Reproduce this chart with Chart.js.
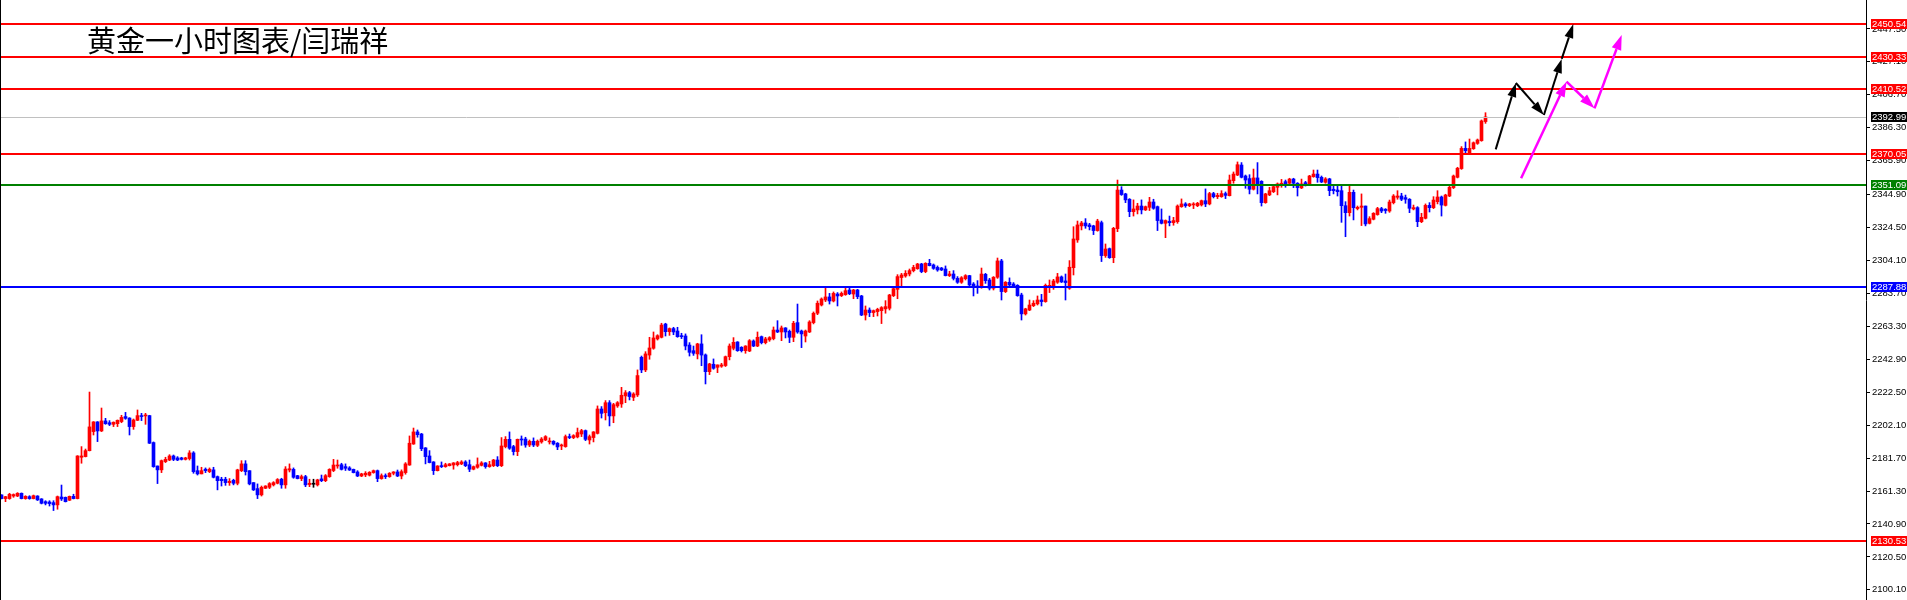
<!DOCTYPE html>
<html>

<head>
  <meta charset="utf-8">
  <title>黄金一小时图表</title>
  <script src="https://cdn.jsdelivr.net/npm/chart.js@4.4.1/dist/chart.umd.min.js"></script>
  <style media="screen">
    html, body { margin: 0; padding: 0; background: #fff; overflow: hidden; }
    canvas { display: block; }
  </style>
</head>

<body>
  <canvas id="goldChart" width="1907" height="600"></canvas>

  <script>
    // hourly candles (oldest first)
    const openPrices = [
      2158.9, 2156.6, 2156.6, 2158.2, 2158.2, 2159.9, 2156.6, 2157.8, 2156.6, 2158.2,
      2156.4, 2154.7, 2154.5, 2154.1, 2152.7, 2157.6, 2157.4, 2155.6, 2158.0, 2156.6,
      2182.2, 2182.6, 2186.3, 2198.1, 2204.1, 2198.5, 2204.7, 2203.6, 2202.6, 2203.0,
      2204.3, 2207.4, 2206.5, 2201.2, 2205.1, 2208.0, 2207.8, 2208.0, 2191.3, 2176.8,
      2174.4, 2179.5, 2180.5, 2183.0, 2181.8, 2181.8, 2180.9, 2181.4, 2184.9, 2173.9,
      2171.9, 2174.8, 2173.3, 2174.4, 2170.2, 2168.6, 2168.6, 2166.5, 2167.9, 2166.1,
      2173.9, 2178.1, 2173.9, 2166.5, 2162.8, 2158.9, 2163.0, 2163.6, 2165.1, 2166.1,
      2168.6, 2165.1, 2174.3, 2174.7, 2170.8, 2169.0, 2170.2, 2165.3, 2165.5, 2165.1,
      2168.8, 2167.7, 2170.2, 2174.0, 2176.8, 2177.6, 2176.4, 2175.6, 2174.7, 2173.1,
      2170.6, 2171.3, 2171.1, 2172.7, 2173.9, 2169.0, 2170.6, 2170.2, 2172.3, 2173.1,
      2170.6, 2172.7, 2177.4, 2190.4, 2197.9, 2196.6, 2188.0, 2183.0, 2179.3, 2173.9,
      2177.0, 2176.4, 2177.0, 2177.4, 2177.6, 2178.1, 2179.3, 2177.6, 2174.8, 2176.0,
      2177.2, 2178.7, 2176.4, 2177.0, 2180.5, 2177.0, 2188.8, 2193.3, 2188.8, 2185.7,
      2193.5, 2193.5, 2189.8, 2192.1, 2189.6, 2191.7, 2192.9, 2191.7, 2192.1, 2190.9,
      2189.2, 2188.8, 2195.0, 2194.4, 2194.8, 2196.6, 2198.7, 2192.9, 2194.4, 2197.0,
      2212.1, 2209.8, 2216.0, 2207.8, 2214.0, 2215.2, 2220.2, 2222.2, 2219.3, 2220.8,
      2244.1, 2236.3, 2245.5, 2249.7, 2255.5, 2256.5, 2264.7, 2260.0, 2261.9, 2260.4,
      2257.5, 2257.3, 2251.7, 2248.2, 2246.2, 2252.4, 2245.6, 2235.2, 2239.8, 2237.9,
      2238.6, 2239.0, 2244.5, 2249.7, 2253.6, 2250.3, 2248.2, 2248.0, 2254.2, 2251.1,
      2256.9, 2253.2, 2254.9, 2255.7, 2261.0, 2259.8, 2262.3, 2260.2, 2256.5, 2265.6,
      2260.4, 2257.3, 2259.8, 2265.6, 2271.4, 2276.5, 2279.6, 2281.5, 2279.0, 2283.3,
      2282.3, 2282.9, 2285.8, 2283.3, 2285.8, 2282.1, 2270.3, 2273.4, 2271.8, 2272.4,
      2273.0, 2274.1, 2274.5, 2282.3, 2286.2, 2293.5, 2294.5, 2295.7, 2297.8, 2299.0,
      2301.9, 2297.2, 2302.3, 2301.3, 2299.8, 2299.4, 2298.8, 2294.7, 2295.7, 2293.0,
      2290.6, 2292.8, 2294.7, 2289.5, 2288.3, 2287.9, 2295.5, 2292.0, 2286.9, 2293.7,
      2303.8, 2284.8, 2290.6, 2289.5, 2288.7, 2282.7, 2271.0, 2273.4, 2276.1, 2277.2,
      2279.6, 2278.6, 2287.9, 2287.9, 2290.6, 2293.9, 2291.4, 2286.9, 2299.6, 2316.8,
      2325.5, 2327.3, 2326.1, 2325.5, 2322.6, 2327.5, 2307.1, 2311.4, 2305.8, 2323.8,
      2347.7, 2345.3, 2342.0, 2334.3, 2335.4, 2337.8, 2335.4, 2337.0, 2340.3, 2337.4,
      2329.2, 2327.1, 2328.3, 2327.5, 2328.1, 2337.4, 2339.1, 2338.0, 2338.5, 2338.0,
      2338.5, 2341.1, 2339.1, 2345.5, 2343.6, 2343.6, 2345.5, 2344.2, 2353.5, 2357.0,
      2363.2, 2356.4, 2354.8, 2348.2, 2355.2, 2353.1, 2339.9, 2344.7, 2346.7, 2349.4,
      2351.3, 2352.9, 2351.9, 2354.5, 2351.9, 2349.0, 2352.3, 2351.5, 2356.0, 2357.6,
      2355.6, 2352.5, 2354.6, 2348.2, 2347.7, 2347.3, 2338.0, 2333.7, 2346.3, 2336.2,
      2337.0, 2337.8, 2327.1, 2329.6, 2332.5, 2336.2, 2335.8, 2334.7, 2339.9, 2343.2,
      2344.0, 2343.0, 2342.0, 2336.0, 2336.8, 2328.1, 2330.2, 2338.2, 2336.8, 2340.5,
      2343.4, 2338.2, 2344.0, 2349.2, 2355.6, 2361.0, 2373.5, 2370.4, 2373.3, 2376.6,
      2378.3, 2390.1
    ];
    const highPrices = [
      2159.0, 2158.0, 2159.9, 2159.5, 2160.3, 2160.1, 2158.4, 2158.4, 2158.8, 2158.4,
      2156.6, 2155.3, 2155.3, 2155.3, 2158.2, 2165.0, 2157.6, 2158.2, 2159.3, 2183.2,
      2188.8, 2187.3, 2222.6, 2204.3, 2204.3, 2212.7, 2206.3, 2204.9, 2204.1, 2205.3,
      2208.2, 2210.0, 2206.7, 2205.9, 2211.5, 2209.4, 2209.4, 2208.2, 2191.7, 2176.8,
      2180.5, 2182.2, 2183.8, 2183.6, 2182.6, 2182.2, 2182.2, 2186.3, 2185.7, 2176.8,
      2176.0, 2175.6, 2175.6, 2176.0, 2170.6, 2169.8, 2169.8, 2169.0, 2168.6, 2174.8,
      2180.1, 2180.1, 2173.9, 2166.5, 2165.7, 2164.4, 2164.6, 2166.5, 2167.1, 2169.0,
      2169.2, 2176.4, 2178.1, 2175.6, 2171.0, 2171.2, 2171.0, 2168.6, 2168.6, 2168.6,
      2171.2, 2171.5, 2175.1, 2180.9, 2180.5, 2178.5, 2178.1, 2176.4, 2174.9, 2173.9,
      2172.3, 2173.3, 2173.3, 2174.3, 2174.3, 2171.9, 2171.9, 2172.7, 2173.3, 2174.3,
      2174.4, 2178.9, 2195.4, 2200.3, 2199.1, 2197.0, 2188.2, 2186.3, 2179.5, 2177.0,
      2179.3, 2178.5, 2178.3, 2178.9, 2179.7, 2180.1, 2180.1, 2180.5, 2176.8, 2181.8,
      2179.5, 2178.9, 2179.7, 2180.9, 2182.6, 2194.4, 2195.0, 2197.9, 2189.6, 2193.5,
      2195.4, 2194.6, 2192.9, 2194.2, 2192.9, 2194.4, 2195.6, 2194.2, 2192.5, 2191.3,
      2190.4, 2196.0, 2196.6, 2196.2, 2200.3, 2199.5, 2199.1, 2196.0, 2198.1, 2214.0,
      2213.6, 2217.3, 2217.3, 2215.6, 2216.7, 2225.5, 2223.5, 2223.0, 2222.2, 2236.3,
      2244.9, 2247.6, 2256.5, 2259.8, 2258.1, 2265.2, 2265.2, 2262.3, 2262.7, 2262.7,
      2259.0, 2258.6, 2253.2, 2251.1, 2252.8, 2258.1, 2246.2, 2240.4, 2243.1, 2239.4,
      2240.4, 2244.9, 2252.4, 2256.3, 2253.8, 2250.7, 2251.3, 2255.1, 2254.9, 2259.8,
      2257.3, 2256.5, 2256.9, 2262.9, 2266.8, 2263.5, 2262.5, 2261.0, 2266.4, 2277.1,
      2261.0, 2261.0, 2266.8, 2272.2, 2279.0, 2280.9, 2287.5, 2283.7, 2284.6, 2284.2,
      2284.6, 2287.5, 2287.5, 2286.2, 2286.2, 2282.5, 2275.9, 2274.7, 2273.4, 2274.5,
      2275.5, 2279.2, 2283.1, 2287.3, 2295.3, 2296.1, 2297.8, 2298.8, 2301.1, 2302.3,
      2302.3, 2302.7, 2304.8, 2301.9, 2300.7, 2299.8, 2300.7, 2297.4, 2297.8, 2294.1,
      2294.1, 2295.3, 2294.9, 2290.4, 2291.6, 2299.4, 2296.1, 2293.0, 2294.1, 2305.6,
      2304.8, 2291.0, 2293.3, 2290.4, 2289.1, 2283.8, 2274.5, 2279.6, 2279.2, 2282.1,
      2283.1, 2289.5, 2292.0, 2292.4, 2296.1, 2294.5, 2295.7, 2304.0, 2325.0, 2328.5,
      2328.3, 2330.0, 2327.1, 2325.9, 2329.6, 2328.5, 2314.3, 2311.8, 2324.6, 2353.9,
      2349.8, 2345.7, 2342.4, 2341.6, 2339.5, 2341.6, 2337.8, 2343.2, 2342.0, 2337.8,
      2336.0, 2329.2, 2331.6, 2330.8, 2338.5, 2342.2, 2339.9, 2339.5, 2339.9, 2340.1,
      2341.5, 2348.4, 2346.3, 2346.3, 2345.7, 2347.3, 2346.5, 2357.0, 2358.9, 2365.1,
      2364.7, 2357.0, 2357.2, 2360.7, 2364.7, 2353.5, 2345.7, 2349.4, 2350.4, 2352.1,
      2354.3, 2353.9, 2355.0, 2355.0, 2352.3, 2354.5, 2353.1, 2356.8, 2360.1, 2360.1,
      2356.4, 2355.4, 2355.0, 2350.6, 2350.2, 2350.8, 2340.5, 2350.8, 2347.7, 2337.8,
      2345.3, 2337.8, 2331.2, 2333.7, 2337.0, 2337.0, 2336.2, 2341.5, 2344.9, 2347.3,
      2345.7, 2344.6, 2342.4, 2338.4, 2337.4, 2333.3, 2339.1, 2339.9, 2343.6, 2347.3,
      2344.0, 2345.1, 2350.2, 2357.0, 2361.8, 2374.6, 2377.5, 2379.3, 2377.5, 2379.3,
      2391.1, 2395.6
    ];
    const lowPrices = [
      2156.4, 2154.7, 2156.2, 2157.4, 2157.8, 2156.4, 2156.2, 2156.2, 2156.4, 2155.4,
      2153.3, 2152.7, 2152.0, 2149.2, 2150.0, 2155.4, 2154.5, 2155.4, 2156.4, 2156.4,
      2178.5, 2182.4, 2186.1, 2196.0, 2191.9, 2198.1, 2202.6, 2201.8, 2201.2, 2201.2,
      2203.6, 2205.7, 2196.0, 2199.5, 2204.9, 2204.9, 2202.6, 2190.7, 2176.0, 2165.9,
      2172.7, 2178.9, 2180.1, 2180.1, 2180.1, 2180.5, 2180.5, 2180.5, 2172.3, 2171.2,
      2171.9, 2172.7, 2172.7, 2169.4, 2162.0, 2164.4, 2164.8, 2164.8, 2165.1, 2165.1,
      2173.3, 2171.2, 2165.1, 2161.6, 2156.6, 2158.2, 2162.8, 2162.8, 2164.4, 2165.7,
      2163.0, 2163.0, 2173.1, 2169.2, 2168.8, 2167.7, 2164.0, 2164.0, 2163.6, 2164.4,
      2167.1, 2167.1, 2169.8, 2173.3, 2175.4, 2174.3, 2174.0, 2174.0, 2172.5, 2170.2,
      2170.2, 2170.2, 2170.6, 2172.3, 2167.1, 2168.6, 2169.0, 2169.8, 2171.3, 2170.2,
      2168.8, 2171.7, 2177.2, 2190.2, 2194.6, 2186.3, 2178.1, 2178.7, 2171.5, 2173.7,
      2175.8, 2176.0, 2176.8, 2174.8, 2176.8, 2177.6, 2176.4, 2173.3, 2174.4, 2175.4,
      2176.8, 2175.4, 2176.0, 2176.4, 2176.4, 2176.4, 2188.0, 2187.1, 2183.6, 2183.2,
      2189.6, 2188.4, 2188.8, 2188.8, 2188.8, 2190.9, 2192.5, 2190.4, 2189.8, 2186.9,
      2186.9, 2188.4, 2193.7, 2193.7, 2194.2, 2195.0, 2192.5, 2190.4, 2191.7, 2196.6,
      2206.5, 2205.3, 2201.6, 2203.6, 2213.1, 2213.1, 2216.0, 2217.7, 2217.3, 2219.8,
      2234.6, 2235.2, 2242.9, 2249.1, 2254.8, 2256.1, 2257.3, 2257.7, 2258.1, 2256.5,
      2255.7, 2248.7, 2244.9, 2245.3, 2243.1, 2238.9, 2227.6, 2233.4, 2236.7, 2234.6,
      2237.9, 2238.4, 2242.5, 2248.7, 2247.8, 2247.4, 2246.6, 2247.6, 2250.7, 2250.7,
      2252.4, 2252.4, 2254.0, 2254.9, 2259.4, 2254.4, 2256.1, 2253.2, 2253.8, 2259.0,
      2250.1, 2253.6, 2259.4, 2264.8, 2270.5, 2275.9, 2278.6, 2277.1, 2278.4, 2275.9,
      2281.7, 2282.5, 2282.9, 2280.4, 2280.4, 2269.9, 2267.2, 2269.3, 2269.3, 2269.7,
      2265.0, 2271.4, 2273.4, 2281.7, 2280.4, 2287.9, 2293.7, 2294.5, 2297.0, 2298.6,
      2296.5, 2296.5, 2300.7, 2298.6, 2297.4, 2297.8, 2294.5, 2294.1, 2292.0, 2289.9,
      2289.9, 2292.0, 2288.3, 2282.1, 2283.7, 2286.9, 2289.9, 2285.8, 2285.8, 2293.0,
      2279.6, 2284.2, 2288.3, 2287.5, 2281.9, 2267.2, 2270.3, 2273.0, 2275.5, 2276.5,
      2275.9, 2278.2, 2284.2, 2286.2, 2289.9, 2290.4, 2279.6, 2286.2, 2295.1, 2315.3,
      2323.0, 2324.0, 2323.0, 2320.1, 2322.2, 2303.4, 2306.0, 2305.4, 2302.7, 2321.9,
      2344.4, 2339.9, 2331.2, 2331.6, 2332.9, 2332.9, 2335.0, 2335.0, 2335.8, 2322.6,
      2326.7, 2318.2, 2325.5, 2325.9, 2327.1, 2337.0, 2337.0, 2337.4, 2336.2, 2337.4,
      2337.8, 2337.4, 2338.5, 2342.8, 2342.4, 2343.2, 2342.4, 2344.0, 2351.9, 2356.6,
      2355.2, 2348.8, 2345.3, 2347.7, 2345.3, 2337.8, 2339.5, 2344.2, 2346.1, 2344.7,
      2349.4, 2349.4, 2351.5, 2349.2, 2344.0, 2348.6, 2350.2, 2350.6, 2355.6, 2352.5,
      2352.3, 2351.9, 2344.2, 2345.3, 2344.0, 2327.7, 2318.8, 2331.6, 2329.2, 2335.4,
      2325.7, 2325.5, 2326.7, 2329.2, 2332.1, 2333.7, 2333.3, 2333.9, 2339.1, 2342.0,
      2341.1, 2339.5, 2333.7, 2335.4, 2325.0, 2327.5, 2329.8, 2334.1, 2336.2, 2339.1,
      2331.6, 2337.8, 2343.6, 2348.6, 2355.2, 2360.5, 2370.0, 2370.0, 2372.9, 2376.0,
      2377.9, 2389.0
    ];
    const closePrices = [
      2156.6, 2157.8, 2159.3, 2159.1, 2159.9, 2156.6, 2158.0, 2156.6, 2158.4, 2155.8,
      2153.7, 2153.7, 2153.5, 2152.7, 2157.8, 2156.4, 2154.7, 2158.0, 2156.6, 2183.0,
      2183.0, 2186.3, 2201.0, 2204.1, 2198.5, 2204.7, 2203.0, 2202.6, 2203.9, 2205.1,
      2206.9, 2206.3, 2201.2, 2205.3, 2208.0, 2207.4, 2208.4, 2190.9, 2176.4, 2174.4,
      2180.1, 2180.9, 2183.0, 2180.9, 2180.5, 2180.9, 2181.8, 2184.9, 2173.3, 2171.9,
      2173.9, 2173.9, 2174.8, 2169.8, 2167.7, 2167.7, 2166.5, 2167.3, 2166.1, 2174.4,
      2178.1, 2173.3, 2165.7, 2162.0, 2158.9, 2163.6, 2164.4, 2165.9, 2166.5, 2168.4,
      2165.1, 2174.9, 2175.1, 2169.8, 2169.0, 2170.2, 2165.1, 2166.1, 2165.5, 2168.2,
      2167.7, 2170.8, 2174.7, 2177.4, 2177.4, 2174.7, 2175.4, 2174.3, 2172.7, 2170.6,
      2171.9, 2172.3, 2172.9, 2173.9, 2169.0, 2170.8, 2170.2, 2172.3, 2173.1, 2170.6,
      2173.3, 2178.1, 2190.9, 2197.9, 2196.2, 2187.5, 2182.6, 2178.9, 2173.9, 2176.8,
      2176.4, 2177.6, 2178.1, 2178.7, 2178.9, 2179.3, 2177.0, 2174.8, 2176.4, 2177.6,
      2178.7, 2176.4, 2177.6, 2180.5, 2177.0, 2189.2, 2193.3, 2187.8, 2185.7, 2193.3,
      2192.9, 2189.8, 2192.1, 2189.8, 2192.1, 2193.5, 2195.0, 2192.1, 2190.4, 2188.6,
      2189.6, 2195.0, 2194.4, 2195.6, 2197.5, 2198.7, 2193.3, 2195.0, 2197.9, 2212.1,
      2209.4, 2216.0, 2207.8, 2214.8, 2216.0, 2220.6, 2222.2, 2219.8, 2221.4, 2232.8,
      2236.3, 2246.2, 2249.9, 2256.1, 2257.5, 2264.1, 2260.0, 2261.9, 2259.8, 2256.9,
      2256.9, 2251.1, 2247.2, 2246.6, 2252.4, 2245.5, 2235.2, 2240.0, 2237.3, 2239.4,
      2239.4, 2244.5, 2251.1, 2253.4, 2248.2, 2248.2, 2251.1, 2254.4, 2251.1, 2256.5,
      2253.2, 2255.5, 2256.3, 2261.0, 2259.8, 2262.3, 2259.8, 2256.5, 2265.2, 2259.8,
      2258.6, 2260.4, 2266.0, 2271.4, 2277.6, 2280.2, 2281.5, 2279.0, 2283.7, 2282.1,
      2283.7, 2285.4, 2283.5, 2285.8, 2281.7, 2270.3, 2273.4, 2271.8, 2273.0, 2273.8,
      2274.9, 2275.5, 2282.7, 2286.6, 2294.1, 2295.1, 2296.1, 2297.8, 2299.8, 2301.9,
      2297.2, 2302.3, 2300.9, 2299.2, 2298.2, 2298.2, 2294.7, 2295.7, 2293.0, 2290.6,
      2293.4, 2294.7, 2288.9, 2288.3, 2287.5, 2295.7, 2291.6, 2286.9, 2293.7, 2303.8,
      2284.8, 2290.6, 2288.9, 2288.3, 2282.3, 2271.0, 2274.1, 2276.5, 2277.6, 2279.6,
      2278.6, 2288.7, 2288.7, 2291.4, 2293.9, 2290.8, 2290.4, 2299.9, 2317.4, 2326.1,
      2327.3, 2325.5, 2325.0, 2322.6, 2328.5, 2307.1, 2311.2, 2305.8, 2324.0, 2347.7,
      2344.9, 2341.6, 2334.3, 2336.0, 2337.8, 2335.4, 2337.4, 2340.3, 2336.4, 2328.8,
      2327.1, 2328.8, 2327.5, 2328.8, 2337.8, 2339.1, 2338.0, 2339.1, 2339.1, 2339.5,
      2341.1, 2339.1, 2345.5, 2343.6, 2344.4, 2345.5, 2344.4, 2353.9, 2357.6, 2363.4,
      2355.6, 2353.9, 2348.2, 2355.2, 2351.5, 2339.9, 2345.3, 2347.3, 2349.8, 2351.5,
      2351.9, 2351.5, 2354.5, 2351.9, 2349.2, 2351.5, 2351.5, 2356.4, 2357.6, 2355.4,
      2352.7, 2354.6, 2347.3, 2347.3, 2346.7, 2338.0, 2333.7, 2346.3, 2336.8, 2337.0,
      2337.8, 2326.7, 2330.0, 2333.3, 2336.2, 2334.7, 2335.0, 2340.3, 2344.0, 2344.0,
      2342.0, 2342.0, 2336.4, 2336.8, 2328.1, 2330.8, 2338.2, 2336.8, 2341.5, 2343.4,
      2338.4, 2344.6, 2349.4, 2356.4, 2361.2, 2373.5, 2372.1, 2373.5, 2377.0, 2378.7,
      2390.5, 2393.0
    ];

    // price axis labels as printed by the terminal
    const yTickValues = [2100.10, 2120.50, 2140.90, 2161.30, 2181.70, 2202.10, 2222.50, 2242.90, 2263.30,
      2283.70, 2304.10, 2324.50, 2344.90, 2365.90, 2386.30, 2406.70, 2427.10, 2447.50];

    // horizontal levels drawn on the chart
    const redLevels = [2450.54, 2430.33, 2410.52, 2370.05, 2130.53];
    const greenLevels = [2351.09];
    const blueLevels = [2287.88];
    const bidPrice = 2392.99;

    // hand drawn arrows: bar index / price of each corner
    const blackArrowX = [373.55, 378.6, 385.6, 390.05, 392.95];
    const blackArrowY = [2372.9, 2414.0, 2394.2, 2428.9, 2450.5];
    const pinkArrowX = [379.9, 391.25, 398.25, 405.05];
    const pinkArrowY = [2355.0, 2414.8, 2398.3, 2443.7];

    const titleText = '黄金一小时图表/闫瑞祥';
    const totalSlots = 466.5;   // visible bar slots incl. empty space on the right

    const candleColors = openPrices.map((o, i) => {
      if (closePrices[i] > o) return '#ff0000';
      if (closePrices[i] < o) return '#0000ff';
      return '#000000';
    });

    function drawArrow(ctx, x1, y1, x2, y2, color, lw, hl, hw) {
      const a = Math.atan2(y2 - y1, x2 - x1);
      const bx = x2 - hl * Math.cos(a), by = y2 - hl * Math.sin(a);
      ctx.strokeStyle = color;
      ctx.lineWidth = lw;
      ctx.beginPath();
      ctx.moveTo(x1, y1);
      ctx.lineTo(bx, by);
      ctx.stroke();
      ctx.fillStyle = color;
      ctx.beginPath();
      ctx.moveTo(x2, y2);
      ctx.lineTo(bx + hw / 2 * Math.sin(a), by - hw / 2 * Math.cos(a));
      ctx.lineTo(bx - hw / 2 * Math.sin(a), by + hw / 2 * Math.cos(a));
      ctx.closePath();
      ctx.fill();
    }

    function drawPath(ctx, xs, ys, xScale, yScale, color, lw, hl, hw) {
      for (let i = 1; i < xs.length; i++) {
        drawArrow(ctx,
          xScale.getPixelForValue(xs[i - 1]), yScale.getPixelForValue(ys[i - 1]),
          xScale.getPixelForValue(xs[i]), yScale.getPixelForValue(ys[i]),
          color, lw, hl, hw);
      }
    }

    const overlay = {
      id: 'overlay',
      afterDatasetsDraw(chart) {
        const { ctx, chartArea, scales: { x, y } } = chart;
        ctx.save();
        ctx.beginPath();
        ctx.rect(chartArea.left, chartArea.top, chartArea.right - chartArea.left, chartArea.bottom - chartArea.top);
        ctx.clip();

        // bid line
        let py = Math.round(y.getPixelForValue(bidPrice)) + 0.5;
        ctx.strokeStyle = '#c0c0c0';
        ctx.lineWidth = 1;
        ctx.beginPath();
        ctx.moveTo(chartArea.left, py);
        ctx.lineTo(chartArea.right, py);
        ctx.stroke();

        const lineSets = [[redLevels, '#ff0000'], [greenLevels, '#008000'], [blueLevels, '#0000ff']];
        lineSets.forEach(([vals, col]) => {
          vals.forEach(v => {
            const p = Math.round(y.getPixelForValue(v));
            ctx.strokeStyle = col;
            ctx.lineWidth = 2;
            ctx.beginPath();
            ctx.moveTo(chartArea.left, p);
            ctx.lineTo(chartArea.right, p);
            ctx.stroke();
          });
        });

        drawPath(ctx, blackArrowX, blackArrowY, x, y, '#000000', 2, 14, 9);
        drawPath(ctx, pinkArrowX, pinkArrowY, x, y, '#ff00ff', 2.5, 15, 10);
        ctx.restore();
      },
      afterDraw(chart) {
        const { ctx, chartArea, scales: { y } } = chart;
        ctx.save();
        // left border
        ctx.strokeStyle = '#000';
        ctx.lineWidth = 1;
        ctx.beginPath();
        ctx.moveTo(0.5, 0);
        ctx.lineTo(0.5, chart.height);
        ctx.stroke();

        // price tags on the axis
        const tags = [];
        redLevels.forEach(v => tags.push([v, '#ff0000']));
        greenLevels.forEach(v => tags.push([v, '#008000']));
        blueLevels.forEach(v => tags.push([v, '#0000ff']));
        tags.push([bidPrice, '#000000']);
        ctx.font = '9.5px "Liberation Sans", Arial, sans-serif';
        ctx.textBaseline = 'middle';
        ctx.textAlign = 'left';
        tags.forEach(([v, col]) => {
          const p = Math.round(y.getPixelForValue(v));
          ctx.fillStyle = col;
          ctx.fillRect(chartArea.right + 5, p - 5, 36, 10);
          ctx.fillStyle = '#ffffff';
          ctx.fillText(v.toFixed(2), chartArea.right + 6, p + 0.5);
        });

        // title
        ctx.fillStyle = '#000';
        ctx.font = '29px "Noto Sans CJK SC", sans-serif';
        ctx.textBaseline = 'alphabetic';
        ctx.fillText(titleText, 87, 52);
        ctx.restore();
      }
    };

    const ctx = document.getElementById('goldChart').getContext('2d');
    const goldChart = new Chart(ctx, {
      type: 'bar',
      data: {
        datasets: [{
          label: 'body',
          data: openPrices.map((o, i) => ({ x: i, y: [o, closePrices[i]] })),
          backgroundColor: candleColors,
          barThickness: 3,
          minBarLength: 1,
          grouped: false,
          order: 1
        }, {
          label: 'wick',
          data: lowPrices.map((l, i) => ({ x: i, y: [l, highPrices[i]] })),
          backgroundColor: candleColors,
          barThickness: 1,
          minBarLength: 1,
          grouped: false,
          order: 2
        }]
      },
      options: {
        responsive: false,
        animation: false,
        devicePixelRatio: 1,
        layout: { padding: 0 },
        plugins: {
          legend: { display: false },
          tooltip: { enabled: false }
        },
        scales: {
          x: {
            type: 'linear',
            display: false,
            offset: false,
            min: -0.375,
            max: totalSlots - 0.375
          },
          y: {
            position: 'right',
            min: 2093.8,
            max: 2465.4,
            grid: { drawOnChartArea: false, drawTicks: true, tickLength: 4, tickColor: '#000' },
            border: { display: true, color: '#000', width: 1 },
            ticks: {
              autoSkip: false,
              padding: 2,
              color: '#000',
              font: { family: '"Liberation Sans", Arial, sans-serif', size: 9.5 },
              callback: v => Number(v).toFixed(2)
            },
            afterBuildTicks: s => { s.ticks = yTickValues.map(v => ({ value: v })); },
            afterFit: s => { s.width = 41; s.paddingTop = 0; s.paddingBottom = 0; }
          }
        }
      },
      plugins: [overlay]
    });
  </script>
</body>

</html>
